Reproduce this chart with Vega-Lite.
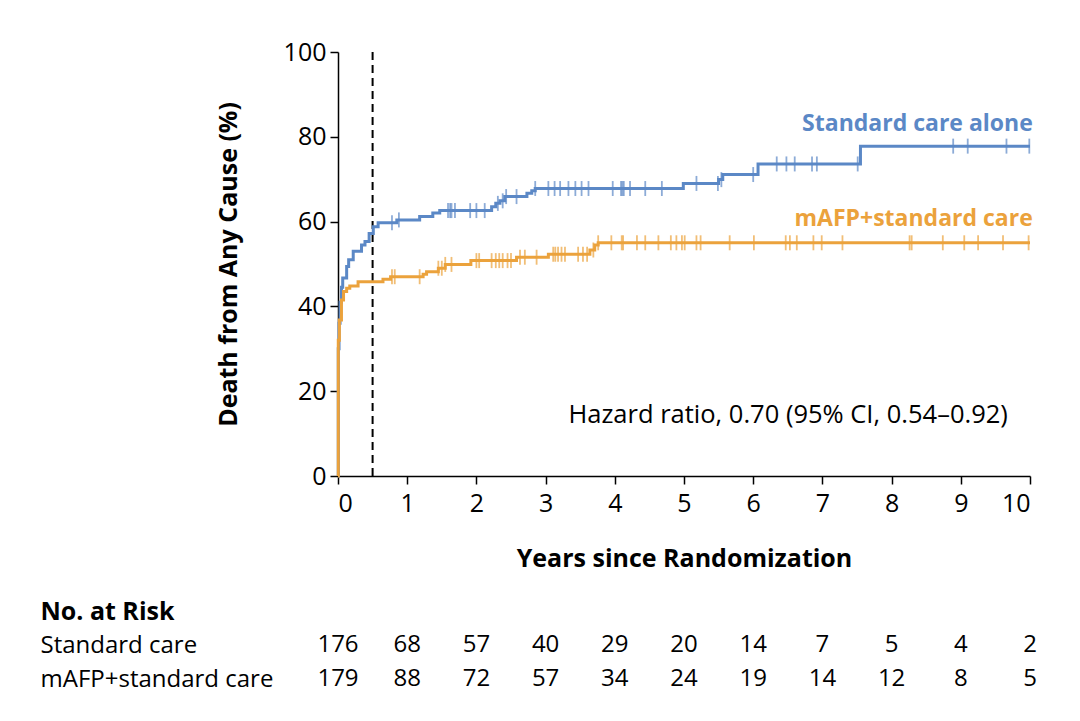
{
  "$schema": "https://vega.github.io/schema/vega-lite/v6.json",
  "description": "Cumulative death from any cause, standard care vs mAFP+standard care, with number at risk.",
  "background": "white",
  "padding": {"left": 40, "top": 40, "right": 10, "bottom": 10},
  "spacing": 28,
  "config": {
    "font": "Open Sans",
    "view": {"stroke": null},
    "axis": {
      "grid": false,
      "domainColor": "black",
      "domainWidth": 1.5,
      "tickColor": "black",
      "tickWidth": 1.5,
      "tickSize": 8,
      "labelColor": "black",
      "labelFontSize": 25,
      "titleColor": "black",
      "titleFontSize": 25,
      "titleFontWeight": "bold"
    }
  },
  "datasets": {
    "km": [
      {"group": "Standard care", "t": 0, "surv": 0},
      {"group": "Standard care", "t": 0.004, "surv": 30},
      {"group": "Standard care", "t": 0.015, "surv": 36},
      {"group": "Standard care", "t": 0.03, "surv": 41},
      {"group": "Standard care", "t": 0.05, "surv": 44.5},
      {"group": "Standard care", "t": 0.068, "surv": 46.7},
      {"group": "Standard care", "t": 0.125, "surv": 49.4},
      {"group": "Standard care", "t": 0.154, "surv": 51.0},
      {"group": "Standard care", "t": 0.22, "surv": 53.0},
      {"group": "Standard care", "t": 0.34, "surv": 54.5},
      {"group": "Standard care", "t": 0.39, "surv": 55.3},
      {"group": "Standard care", "t": 0.45, "surv": 57.2},
      {"group": "Standard care", "t": 0.51, "surv": 58.8},
      {"group": "Standard care", "t": 0.58, "surv": 59.7},
      {"group": "Standard care", "t": 0.85, "surv": 60.4},
      {"group": "Standard care", "t": 1.18, "surv": 61.2},
      {"group": "Standard care", "t": 1.37, "surv": 62.0},
      {"group": "Standard care", "t": 1.47, "surv": 62.6},
      {"group": "Standard care", "t": 2.22, "surv": 63.5},
      {"group": "Standard care", "t": 2.28, "surv": 64.3},
      {"group": "Standard care", "t": 2.34, "surv": 64.9},
      {"group": "Standard care", "t": 2.41, "surv": 65.9},
      {"group": "Standard care", "t": 2.73, "surv": 66.7},
      {"group": "Standard care", "t": 2.80, "surv": 67.3},
      {"group": "Standard care", "t": 2.85, "surv": 67.8},
      {"group": "Standard care", "t": 4.99, "surv": 69.0},
      {"group": "Standard care", "t": 5.50, "surv": 69.9},
      {"group": "Standard care", "t": 5.56, "surv": 71.1},
      {"group": "Standard care", "t": 6.07, "surv": 73.6},
      {"group": "Standard care", "t": 7.55, "surv": 77.8},
      {"group": "Standard care", "t": 10, "surv": 77.8},
      {"group": "mAFP+standard care", "t": 0, "surv": 0},
      {"group": "mAFP+standard care", "t": 0.004, "surv": 32},
      {"group": "mAFP+standard care", "t": 0.02, "surv": 36.8},
      {"group": "mAFP+standard care", "t": 0.05, "surv": 41.5},
      {"group": "mAFP+standard care", "t": 0.08, "surv": 43.5},
      {"group": "mAFP+standard care", "t": 0.125, "surv": 44.3},
      {"group": "mAFP+standard care", "t": 0.17, "surv": 44.8},
      {"group": "mAFP+standard care", "t": 0.29, "surv": 45.8},
      {"group": "mAFP+standard care", "t": 0.65, "surv": 46.4},
      {"group": "mAFP+standard care", "t": 0.76, "surv": 47.0},
      {"group": "mAFP+standard care", "t": 1.23, "surv": 47.6},
      {"group": "mAFP+standard care", "t": 1.28, "surv": 48.2},
      {"group": "mAFP+standard care", "t": 1.45, "surv": 49.0},
      {"group": "mAFP+standard care", "t": 1.55, "surv": 49.9},
      {"group": "mAFP+standard care", "t": 1.92, "surv": 50.8},
      {"group": "mAFP+standard care", "t": 2.58, "surv": 51.6},
      {"group": "mAFP+standard care", "t": 3.04, "surv": 52.3},
      {"group": "mAFP+standard care", "t": 3.64, "surv": 53.3},
      {"group": "mAFP+standard care", "t": 3.71, "surv": 54.5},
      {"group": "mAFP+standard care", "t": 3.76, "surv": 55.0},
      {"group": "mAFP+standard care", "t": 10, "surv": 55.0}
    ],
    "censor": [
      {"group": "Standard care", "t": 0.78, "surv": 59.7},
      {"group": "Standard care", "t": 0.88, "surv": 60.4},
      {"group": "Standard care", "t": 1.59, "surv": 62.6},
      {"group": "Standard care", "t": 1.62, "surv": 62.6},
      {"group": "Standard care", "t": 1.64, "surv": 62.6},
      {"group": "Standard care", "t": 1.69, "surv": 62.6},
      {"group": "Standard care", "t": 1.91, "surv": 62.6},
      {"group": "Standard care", "t": 2.0, "surv": 62.6},
      {"group": "Standard care", "t": 2.12, "surv": 62.6},
      {"group": "Standard care", "t": 2.31, "surv": 64.3},
      {"group": "Standard care", "t": 2.38, "surv": 64.9},
      {"group": "Standard care", "t": 2.43, "surv": 65.9},
      {"group": "Standard care", "t": 2.58, "surv": 65.9},
      {"group": "Standard care", "t": 2.85, "surv": 67.8},
      {"group": "Standard care", "t": 3.04, "surv": 67.8},
      {"group": "Standard care", "t": 3.13, "surv": 67.8},
      {"group": "Standard care", "t": 3.21, "surv": 67.8},
      {"group": "Standard care", "t": 3.33, "surv": 67.8},
      {"group": "Standard care", "t": 3.43, "surv": 67.8},
      {"group": "Standard care", "t": 3.52, "surv": 67.8},
      {"group": "Standard care", "t": 3.62, "surv": 67.8},
      {"group": "Standard care", "t": 3.97, "surv": 67.8},
      {"group": "Standard care", "t": 4.09, "surv": 67.8},
      {"group": "Standard care", "t": 4.11, "surv": 67.8},
      {"group": "Standard care", "t": 4.13, "surv": 67.8},
      {"group": "Standard care", "t": 4.22, "surv": 67.8},
      {"group": "Standard care", "t": 4.44, "surv": 67.8},
      {"group": "Standard care", "t": 4.68, "surv": 67.8},
      {"group": "Standard care", "t": 5.18, "surv": 69.0},
      {"group": "Standard care", "t": 5.49, "surv": 69.0},
      {"group": "Standard care", "t": 5.54, "surv": 69.9},
      {"group": "Standard care", "t": 6.0, "surv": 71.1},
      {"group": "Standard care", "t": 6.34, "surv": 73.6},
      {"group": "Standard care", "t": 6.48, "surv": 73.6},
      {"group": "Standard care", "t": 6.60, "surv": 73.6},
      {"group": "Standard care", "t": 6.85, "surv": 73.6},
      {"group": "Standard care", "t": 6.92, "surv": 73.6},
      {"group": "Standard care", "t": 7.51, "surv": 73.6},
      {"group": "Standard care", "t": 8.89, "surv": 77.8},
      {"group": "Standard care", "t": 9.10, "surv": 77.8},
      {"group": "Standard care", "t": 9.66, "surv": 77.8},
      {"group": "Standard care", "t": 9.99, "surv": 77.8},
      {"group": "mAFP+standard care", "t": 0.78, "surv": 47.0},
      {"group": "mAFP+standard care", "t": 0.82, "surv": 47.0},
      {"group": "mAFP+standard care", "t": 1.18, "surv": 47.0},
      {"group": "mAFP+standard care", "t": 1.45, "surv": 49.0},
      {"group": "mAFP+standard care", "t": 1.50, "surv": 49.0},
      {"group": "mAFP+standard care", "t": 1.55, "surv": 49.9},
      {"group": "mAFP+standard care", "t": 1.64, "surv": 49.9},
      {"group": "mAFP+standard care", "t": 2.0, "surv": 50.8},
      {"group": "mAFP+standard care", "t": 2.04, "surv": 50.8},
      {"group": "mAFP+standard care", "t": 2.22, "surv": 50.8},
      {"group": "mAFP+standard care", "t": 2.28, "surv": 50.8},
      {"group": "mAFP+standard care", "t": 2.33, "surv": 50.8},
      {"group": "mAFP+standard care", "t": 2.38, "surv": 50.8},
      {"group": "mAFP+standard care", "t": 2.45, "surv": 50.8},
      {"group": "mAFP+standard care", "t": 2.50, "surv": 50.8},
      {"group": "mAFP+standard care", "t": 2.63, "surv": 51.6},
      {"group": "mAFP+standard care", "t": 2.70, "surv": 51.6},
      {"group": "mAFP+standard care", "t": 2.87, "surv": 51.6},
      {"group": "mAFP+standard care", "t": 3.11, "surv": 52.3},
      {"group": "mAFP+standard care", "t": 3.14, "surv": 52.3},
      {"group": "mAFP+standard care", "t": 3.18, "surv": 52.3},
      {"group": "mAFP+standard care", "t": 3.23, "surv": 52.3},
      {"group": "mAFP+standard care", "t": 3.28, "surv": 52.3},
      {"group": "mAFP+standard care", "t": 3.47, "surv": 52.3},
      {"group": "mAFP+standard care", "t": 3.54, "surv": 52.3},
      {"group": "mAFP+standard care", "t": 3.60, "surv": 52.3},
      {"group": "mAFP+standard care", "t": 3.69, "surv": 53.3},
      {"group": "mAFP+standard care", "t": 3.76, "surv": 55.0},
      {"group": "mAFP+standard care", "t": 3.95, "surv": 55.0},
      {"group": "mAFP+standard care", "t": 4.10, "surv": 55.0},
      {"group": "mAFP+standard care", "t": 4.12, "surv": 55.0},
      {"group": "mAFP+standard care", "t": 4.32, "surv": 55.0},
      {"group": "mAFP+standard care", "t": 4.44, "surv": 55.0},
      {"group": "mAFP+standard care", "t": 4.63, "surv": 55.0},
      {"group": "mAFP+standard care", "t": 4.81, "surv": 55.0},
      {"group": "mAFP+standard care", "t": 4.89, "surv": 55.0},
      {"group": "mAFP+standard care", "t": 4.97, "surv": 55.0},
      {"group": "mAFP+standard care", "t": 5.01, "surv": 55.0},
      {"group": "mAFP+standard care", "t": 5.18, "surv": 55.0},
      {"group": "mAFP+standard care", "t": 5.24, "surv": 55.0},
      {"group": "mAFP+standard care", "t": 5.66, "surv": 55.0},
      {"group": "mAFP+standard care", "t": 6.01, "surv": 55.0},
      {"group": "mAFP+standard care", "t": 6.47, "surv": 55.0},
      {"group": "mAFP+standard care", "t": 6.53, "surv": 55.0},
      {"group": "mAFP+standard care", "t": 6.63, "surv": 55.0},
      {"group": "mAFP+standard care", "t": 6.87, "surv": 55.0},
      {"group": "mAFP+standard care", "t": 6.99, "surv": 55.0},
      {"group": "mAFP+standard care", "t": 7.29, "surv": 55.0},
      {"group": "mAFP+standard care", "t": 8.26, "surv": 55.0},
      {"group": "mAFP+standard care", "t": 8.29, "surv": 55.0},
      {"group": "mAFP+standard care", "t": 8.74, "surv": 55.0},
      {"group": "mAFP+standard care", "t": 9.05, "surv": 55.0},
      {"group": "mAFP+standard care", "t": 9.25, "surv": 55.0},
      {"group": "mAFP+standard care", "t": 9.61, "surv": 55.0},
      {"group": "mAFP+standard care", "t": 9.98, "surv": 55.0}
    ],
    "risk": [
      {"row": "Standard care", "t": 0, "n": 176},
      {"row": "Standard care", "t": 1, "n": 68},
      {"row": "Standard care", "t": 2, "n": 57},
      {"row": "Standard care", "t": 3, "n": 40},
      {"row": "Standard care", "t": 4, "n": 29},
      {"row": "Standard care", "t": 5, "n": 20},
      {"row": "Standard care", "t": 6, "n": 14},
      {"row": "Standard care", "t": 7, "n": 7},
      {"row": "Standard care", "t": 8, "n": 5},
      {"row": "Standard care", "t": 9, "n": 4},
      {"row": "Standard care", "t": 10, "n": 2},
      {"row": "mAFP+standard care", "t": 0, "n": 179},
      {"row": "mAFP+standard care", "t": 1, "n": 88},
      {"row": "mAFP+standard care", "t": 2, "n": 72},
      {"row": "mAFP+standard care", "t": 3, "n": 57},
      {"row": "mAFP+standard care", "t": 4, "n": 34},
      {"row": "mAFP+standard care", "t": 5, "n": 24},
      {"row": "mAFP+standard care", "t": 6, "n": 19},
      {"row": "mAFP+standard care", "t": 7, "n": 14},
      {"row": "mAFP+standard care", "t": 8, "n": 12},
      {"row": "mAFP+standard care", "t": 9, "n": 8},
      {"row": "mAFP+standard care", "t": 10, "n": 5}
    ]
  },
  "vconcat": [
    {
      "width": 692,
      "height": 424,
      "encoding": {
        "x": {
          "field": "t",
          "type": "quantitative",
          "scale": {"domain": [0, 10], "nice": false},
          "axis": {"values": [0, 1, 2, 3, 4, 5, 6, 7, 8, 9, 10], "labelPadding": 7, "titlePadding": 30},
          "title": "Years since Randomization"
        },
        "y": {
          "field": "surv",
          "type": "quantitative",
          "scale": {"domain": [0, 100], "nice": false},
          "axis": {"values": [0, 20, 40, 60, 80, 100], "labelPadding": 4, "titlePadding": 42},
          "title": "Death from Any Cause (%)"
        }
      },
      "layer": [
        {
          "data": {"values": [{"t": 0.5, "surv": 0, "top": 100}]},
          "mark": {"type": "rule", "color": "black", "strokeWidth": 2, "strokeDash": [8, 5]},
          "encoding": {"y2": {"field": "top"}}
        },
        {
          "data": {"name": "km"},
          "mark": {"type": "line", "interpolate": "step-after", "strokeWidth": 3},
          "encoding": {
            "color": {
              "field": "group",
              "type": "nominal",
              "scale": {"domain": ["Standard care", "mAFP+standard care"], "range": ["#5b88c6", "#eba23c"]},
              "legend": null
            },
            "order": {"field": "t", "type": "quantitative"}
          }
        },
        {
          "data": {"name": "censor"},
          "mark": {"type": "tick", "orient": "vertical", "size": 15, "thickness": 1.8},
          "encoding": {
            "color": {"field": "group", "type": "nominal", "legend": null}
          }
        },
        {
          "data": {"values": [
            {"t": 10.04, "surv": 83.0, "group": "Standard care", "label": "Standard care alone"},
            {"t": 10.04, "surv": 60.7, "group": "mAFP+standard care", "label": "mAFP+standard care"}
          ]},
          "mark": {"type": "text", "align": "right", "baseline": "middle", "fontSize": 23, "fontWeight": "bold"},
          "encoding": {
            "text": {"field": "label"},
            "color": {"field": "group", "type": "nominal", "legend": null}
          }
        },
        {
          "data": {"values": [{"t": 9.68, "surv": 14.3, "label": "Hazard ratio, 0.70 (95% CI, 0.54–0.92)"}]},
          "mark": {"type": "text", "align": "right", "baseline": "middle", "fontSize": 25.5, "color": "black"},
          "encoding": {"text": {"field": "label"}}
        }
      ]
    },
    {
      "width": 692,
      "height": 68,
      "data": {"name": "risk"},
      "mark": {"type": "text", "fontSize": 24, "color": "black", "baseline": "middle"},
      "encoding": {
        "x": {"field": "t", "type": "quantitative", "scale": {"domain": [0, 10], "nice": false}, "axis": null},
        "y": {
          "field": "row",
          "type": "nominal",
          "scale": {"type": "point", "padding": 0, "domain": ["No. at Risk", "Standard care", "mAFP+standard care"]},
          "axis": {
            "title": null,
            "domain": false,
            "ticks": false,
            "labelAlign": "left",
            "labelPadding": 298,
            "labelLimit": 0,
            "labelFontSize": {"condition": {"test": "datum.value === 'No. at Risk'", "value": 25}, "value": 24},
            "labelFontWeight": {"condition": {"test": "datum.value === 'No. at Risk'", "value": "bold"}, "value": "normal"}
          }
        },
        "text": {"field": "n", "type": "quantitative"}
      }
    }
  ]
}
